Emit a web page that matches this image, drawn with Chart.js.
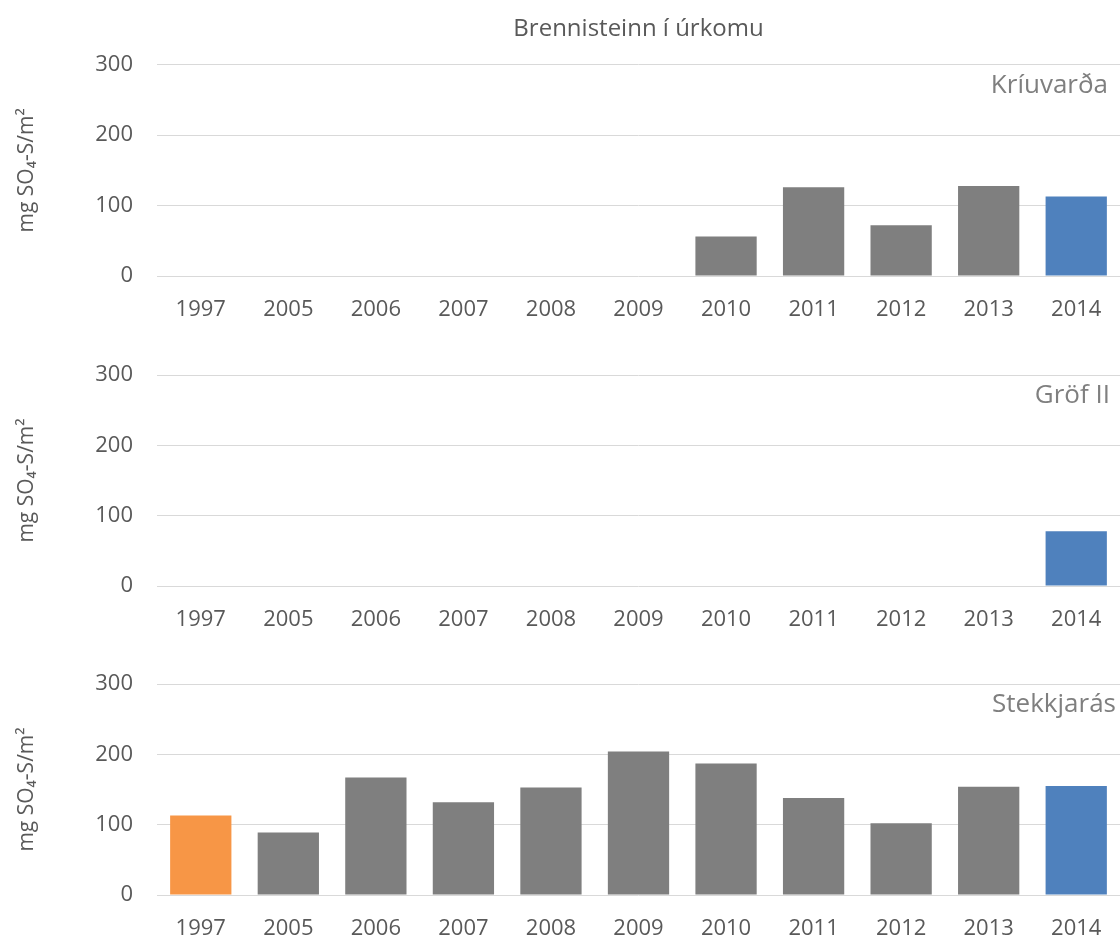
<!DOCTYPE html>
<html>
<head>
<meta charset="utf-8">
<script src="https://cdn.jsdelivr.net/npm/chart.js@4"></script>
<style>
  body { margin: 0; background: #fff; overflow: hidden; }
  #wrap { position: relative; width: 1120px; height: 938px; }
  canvas { position: absolute; left: 0; }
</style>
</head>
<body>
<div id="wrap">
  <canvas id="c1" width="1120" height="318" style="top:0px"></canvas>
  <canvas id="c2" width="1120" height="318" style="top:310px"></canvas>
  <canvas id="c3" width="1120" height="318" style="top:619px"></canvas>
</div>
<script>
// data
const years = ['1997', '2005', '2006', '2007', '2008', '2009', '2010', '2011', '2012', '2013', '2014'];
const kriuvarda = [null, null, null, null, null, null, 56, 126, 72, 128, 113];
const grofII = [null, null, null, null, null, null, null, null, null, null, 78];
const stekkjaras = [113, 89, 167, 132, 153, 204, 187, 138, 102, 154, 155];
const yTicks = [0, 100, 200, 300];

const mainTitle = 'Brennisteinn í úrkomu';
const yTitle = 'mg SO₄-S/m²';

const grey = '#7f7f7f', blue = '#4f81bd', orange = '#f79646';
const textCol = '#595959';
const fontFam = '"Open Sans", "Noto Sans", sans-serif';

// colour per bar: 1997 orange, 2014 blue, rest grey
function barColors(vals) {
  return vals.map((v, i) => {
    if (years[i] == '2014') return blue;
    if (years[i] == '1997') return orange;
    return grey;
  });
}

// station name in the top right corner of the plot
const panelLabel = {
  id: 'panelLabel',
  afterDraw(chart, args, opts) {
    const ctx = chart.ctx, a = chart.chartArea;
    ctx.save();
    ctx.font = '26px ' + fontFam;
    ctx.fillStyle = '#7f7f7f';
    ctx.textAlign = 'right';
    ctx.textBaseline = 'middle';
    ctx.fillText(opts.text, a.right - (opts.dx || 10), a.top + 21);
    ctx.restore();
  }
};

function makeChart(id, vals, label, withTitle, padTop, dx) {
  return new Chart(document.getElementById(id), {
    type: 'bar',
    data: {
      labels: years,
      datasets: [{
        data: vals,
        backgroundColor: barColors(vals),
        barPercentage: 0.7,
        categoryPercentage: 1.0
      }]
    },
    options: {
      responsive: false,
      animation: false,
      layout: { padding: { top: padTop, left: 0, right: 0, bottom: 0 } },
      plugins: {
        legend: { display: false },
        tooltip: { enabled: false },
        title: {
          display: withTitle,
          text: mainTitle,
          fullSize: false,
          color: textCol,
          font: { family: fontFam, size: 24, weight: 'normal' },
          padding: { top: 15, bottom: 21 }
        },
        panelLabel: { text: label, dx: dx }
      },
      scales: {
        x: {
          grid: { display: false },
          border: { display: false },
          ticks: { color: textCol, font: { family: fontFam, size: 22 }, padding: 13, maxRotation: 0 },
          afterFit(s) { s.height = 42; }
        },
        y: {
          min: 0, max: 300,
          afterBuildTicks(s) { s.ticks = yTicks.map(v => ({ value: v })); },
          grid: { color: '#d9d9d9', lineWidth: 1, drawTicks: false },
          border: { display: false },
          ticks: { color: textCol, font: { family: fontFam, size: 22 }, padding: 24 },
          title: {
            display: true,
            text: yTitle,
            color: textCol,
            font: { family: fontFam, size: 21 },
            padding: { top: 14, bottom: 0 }
          },
          afterFit(s) { s.width = 157; }
        }
      }
    },
    plugins: [panelLabel]
  });
}

makeChart('c1', kriuvarda, 'Kríuvarða', true, 0, 12);
makeChart('c2', grofII, 'Gröf II', false, 65, 10);
makeChart('c3', stekkjaras, 'Stekkjarás', false, 65, 4);
</script>
</body>
</html>
